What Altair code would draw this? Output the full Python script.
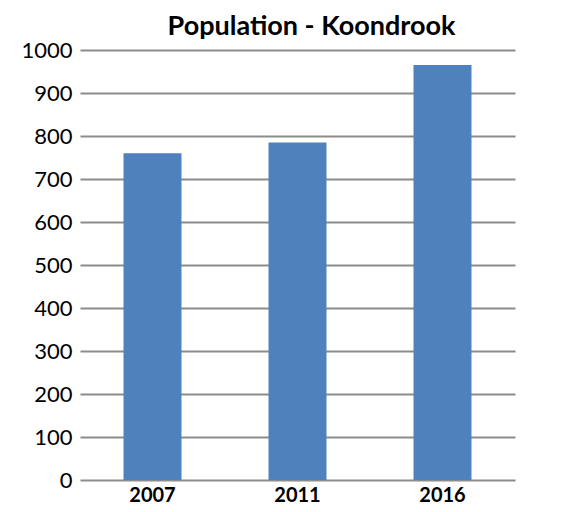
import altair as alt
import pandas as pd

years = ["2007", "2011", "2016"]
population = [760, 785, 965]

df = pd.DataFrame({"year": years, "population": population})

FONT = "Lato"

chart = (
    alt.Chart(df)
    .mark_bar(color="#4f81bd")
    .encode(
        x=alt.X(
            "year:N",
            sort=years,
            scale=alt.Scale(paddingInner=0.6, paddingOuter=0.3),
            axis=alt.Axis(
                title=None,
                labelAngle=0,
                labelFont=FONT,
                labelFontWeight="bold",
                labelFontSize=20,
                labelColor="#000000",
                labelPadding=5,
                ticks=False,
                domain=False,
                grid=False,
            ),
        ),
        y=alt.Y(
            "population:Q",
            scale=alt.Scale(domain=[0, 1000], nice=False),
            axis=alt.Axis(
                title=None,
                values=list(range(0, 1001, 100)),
                format="d",
                labelFont=FONT,
                labelFontSize=22,
                labelColor="#000000",
                labelPadding=8,
                ticks=False,
                domain=False,
                grid=True,
                gridColor="#8c8c8c",
                gridWidth=2,
            ),
        ),
    )
    .properties(
        width=435,
        height=430,
        title=alt.TitleParams(
            "Population - Koondrook",
            font=FONT,
            fontSize=27,
            fontWeight="bold",
            color="#000000",
            anchor="middle",
            offset=2,
            dx=14,
            dy=4,
        ),
        autosize=alt.AutoSizeParams(type="none"),
        padding={"left": 72, "top": 42, "right": 40, "bottom": 24},
    )
    .configure_view(stroke=None)
)

chart.save("out.html", embed_options={"renderer": "svg", "actions": False})
